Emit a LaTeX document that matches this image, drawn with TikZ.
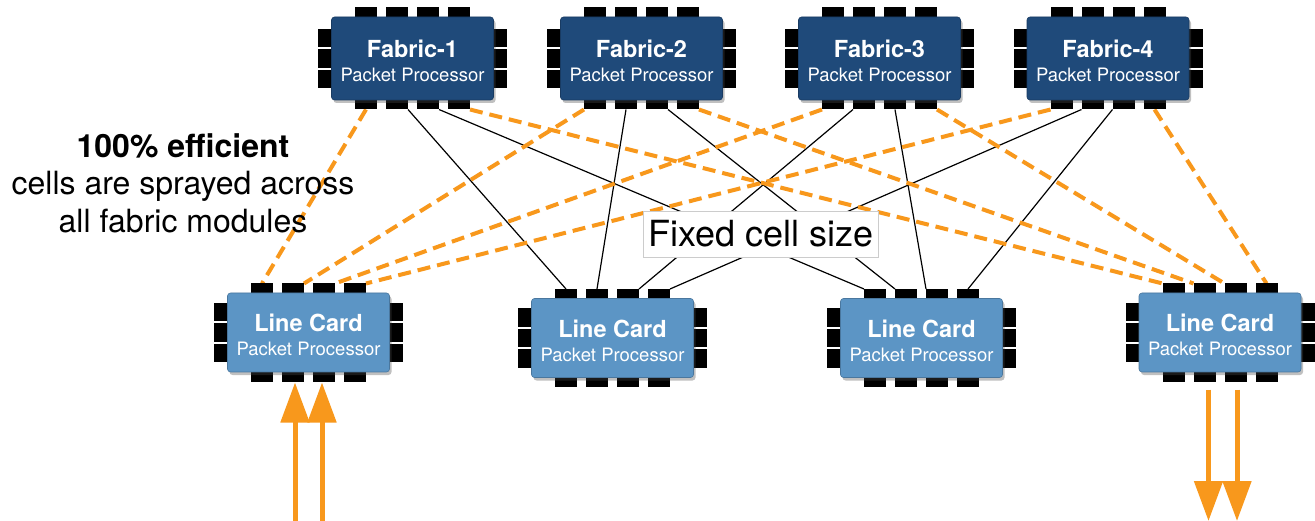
\documentclass[tikz,border=0pt]{standalone}
\usepackage{fontspec}
\setmainfont{TeX Gyre Heros}
\usetikzlibrary{arrows.meta,shadows}

\definecolor{fabblue}{RGB}{31,74,122}
\definecolor{cardblue}{RGB}{92,149,197}
\definecolor{spray}{RGB}{248,152,28}

\pgfdeclarelayer{bg}
\pgfdeclarelayer{wires}
\pgfsetlayers{bg,wires,main}

\tikzset{
  pinh/.style={fill=black, draw=none, minimum width=22pt, minimum height=9.5pt, inner sep=0pt, outer sep=0pt},
  pinv/.style={fill=black, draw=none, minimum width=13.5pt, minimum height=18.5pt, inner sep=0pt, outer sep=0pt},
  chipbody/.style={rounded corners=3pt, minimum width=162pt, inner sep=0pt, outer sep=0pt,
    drop shadow={shadow xshift=2pt, shadow yshift=-3pt, opacity=0.35, fill=black!70}},
  fabricbody/.style={chipbody, fill=fabblue, draw=fabblue!80!black, line width=0.6pt, minimum height=83pt},
  cardbody/.style={chipbody, fill=cardblue, draw=cardblue!80!black, line width=0.6pt, minimum height=79pt},
  chiplabel/.style={text=white, align=center, inner sep=0pt, font=\fontsize{18.5}{24}\selectfont},
  link/.style={draw=black, line width=1.2pt},
  sprayed/.style={draw=spray, line width=4pt, dash pattern=on 13pt off 7pt},
  flow/.style={draw=spray, line width=5pt, -{Triangle[length=40pt,width=28pt]}},
}

\newcommand\chiptitle[1]{{\fontsize{23.5}{24}\selectfont\bfseries #1}}

% #1 name, #2 centre x, #3 centre y, #4 half height, #5 body style, #6 title
\newcommand\chip[6]{%
  \foreach \i/\dx in {1/-46.5,2/-15.5,3/15.5,4/46.5}{
    \node[pinh, anchor=south] (#1-t\i) at ({#2+\dx},{#3-#4}) {};
    \node[pinh, anchor=north] (#1-b\i) at ({#2+\dx},{#3+#4}) {};
  }
  \foreach \i/\dy in {1/-20.5,2/0,3/20.5}{
    \node[pinv, anchor=east] (#1-l\i) at ({#2-81},{#3+\dy}) {};
    \node[pinv, anchor=west] (#1-r\i) at ({#2+81},{#3+\dy}) {};
  }
  \node[#5] (#1) at (#2,#3) {};
  \node[chiplabel] (#1-text) at ([yshift=-2.5pt]#1.center) {\chiptitle{#6}\\Packet Processor};
}

\begin{document}
\begin{tikzpicture}[x=1pt, y=-1pt]
  \begin{pgfonlayer}{bg}
    \fill[white] (0,0) rectangle (1315,521);
  \end{pgfonlayer}
  \useasboundingbox (0,0) rectangle (1315,521);

  % fabric modules
  \chip{f1}{412.5}{58.5}{41.5}{fabricbody}{Fabric-1}
  \chip{f2}{641.5}{58.5}{41.5}{fabricbody}{Fabric-2}
  \chip{f3}{879.5}{58.5}{41.5}{fabricbody}{Fabric-3}
  \chip{f4}{1108}{58.5}{41.5}{fabricbody}{Fabric-4}

  % line cards
  \chip{lc1}{308.5}{332.5}{39.5}{cardbody}{Line Card}
  \chip{lc2}{612.5}{338}{39.5}{cardbody}{Line Card}
  \chip{lc3}{921.5}{338}{39.5}{cardbody}{Line Card}
  \chip{lc4}{1220}{332.5}{39.5}{cardbody}{Line Card}

  % annotations
  \node[align=center, inner sep=0pt, font=\fontsize{32}{37.5}\selectfont] (note) at (183,183)
    {\textbf{100\% efficient}\\cells are sprayed across\\all fabric modules};

  \begin{pgfonlayer}{wires}
    % fixed-size links to the middle line cards
    \draw[link] (f1-b2.south east) -- (lc2-t1.north);
    \draw[link] (f1-b3.south east) -- (lc3-t1.north west);
    \draw[link] (f2-b2.south) -- (lc2-t2.north);
    \draw[link] (f2-b3.south east) -- (lc3-t2.north west);
    \draw[link] (f3-b2.south west) -- (lc2-t3.north east);
    \draw[link] (f3-b3.south) -- (lc3-t3.north west);
    \draw[link] (f4-b2.south west) -- (lc2-t4.north east);
    \draw[link] (f4-b3.south west) -- (lc3-t4.north);

    % sprayed cells to the outer line cards
    \draw[sprayed] (f1-b1.south) -- (lc1-t1.north);
    \draw[sprayed] (f2-b1.south west) -- (lc1-t2.north east);
    \draw[sprayed] (f3-b1.south west) -- (lc1-t3.north east);
    \draw[sprayed] (f4-b1.south west) -- (lc1-t4.north east);
    \draw[sprayed] (f1-b4.south east) -- (lc4-t1.north west);
    \draw[sprayed] (f2-b4.south east) -- (lc4-t2.north west);
    \draw[sprayed] (f3-b4.south east) -- (lc4-t3.north west);
    \draw[sprayed] (f4-b4.south) -- (lc4-t4.north);
  \end{pgfonlayer}

  \node[draw=black!20, fill=white, line width=0.6pt, minimum width=235pt, minimum height=46pt,
        inner sep=0pt, font=\fontsize{36}{40}\selectfont] (cell) at (761,234) {Fixed cell size};

  % traffic entering and leaving
  \coordinate (in1) at ([xshift=2pt]lc1-b2.south |- 0,521);
  \coordinate (in2) at ([xshift=-2pt]lc1-b3.south |- 0,521);
  \coordinate (out1) at ([xshift=4pt]lc4-b2.south |- 0,521);
  \coordinate (out2) at ([xshift=1.5pt]lc4-b3.south |- 0,521);
  \draw[flow] (in1) -- ([xshift=2pt, yshift=-1pt]lc1-b2.south);
  \draw[flow] (in2) -- ([xshift=-2pt, yshift=-1pt]lc1-b3.south);
  \draw[flow] ([xshift=4pt, yshift=-8pt]lc4-b2.south) -- (out1);
  \draw[flow] ([xshift=1.5pt, yshift=-8pt]lc4-b3.south) -- (out2);
\end{tikzpicture}
\end{document}
